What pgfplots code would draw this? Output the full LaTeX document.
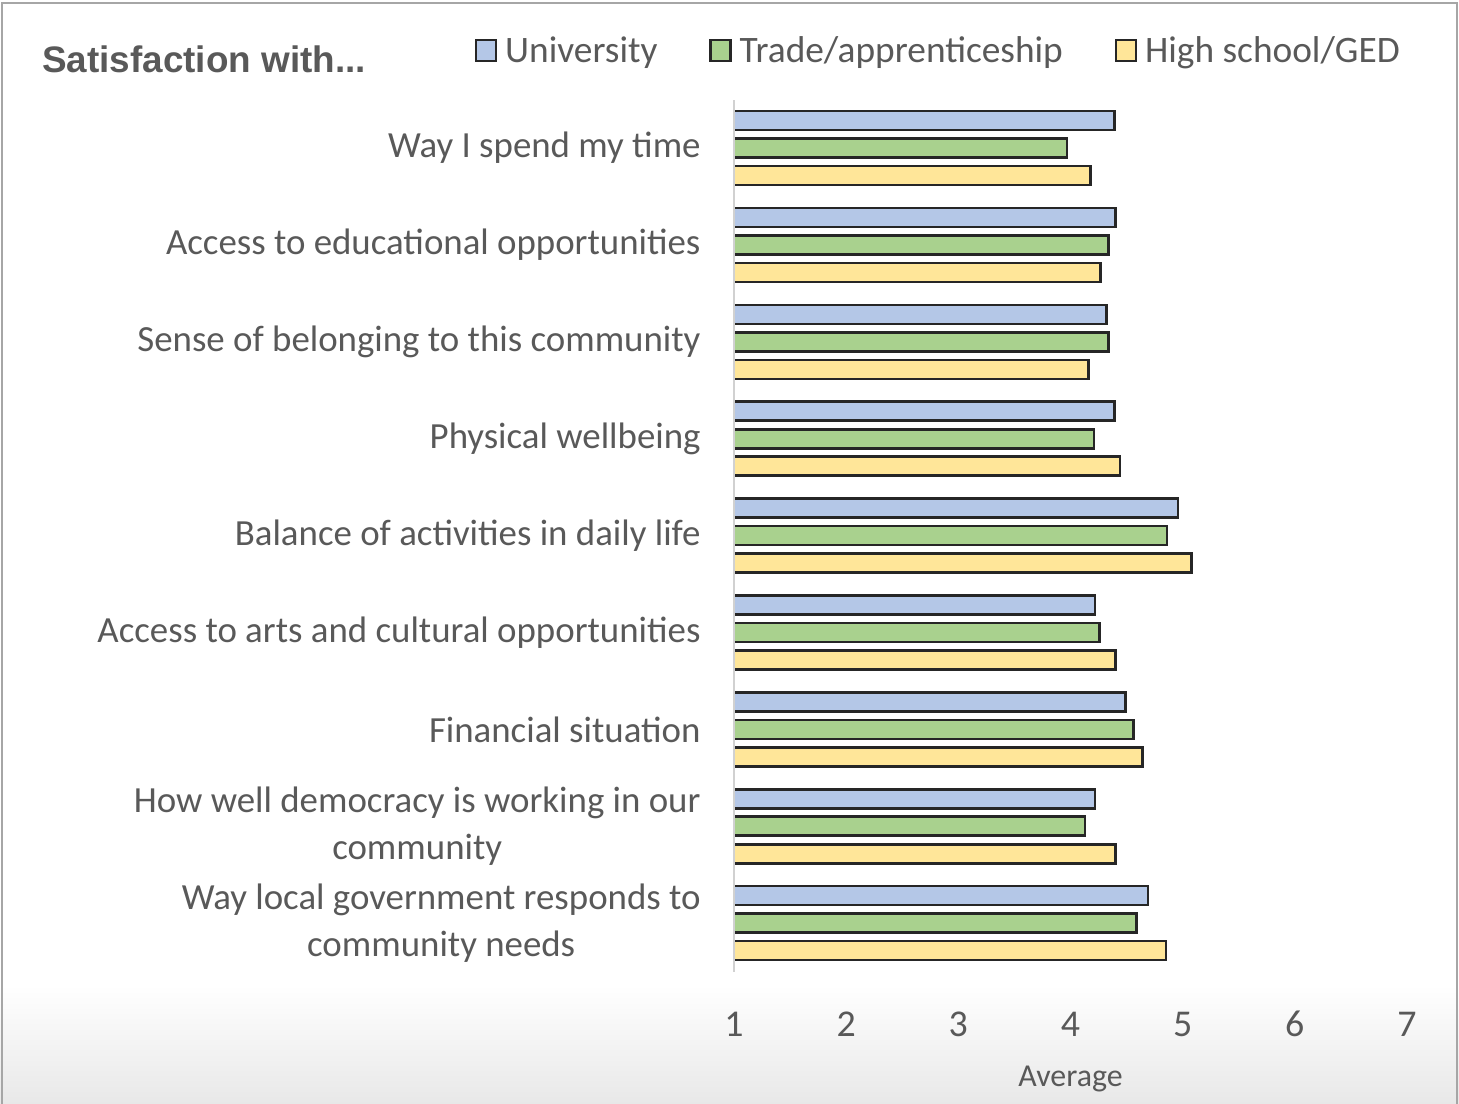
\documentclass[border=0pt]{standalone}
\usepackage{fontspec}
\setmainfont{Carlito}
\newfontfamily\arialfont{Liberation Sans}
\usepackage{pgfplots}
\pgfplotsset{compat=1.18}
\definecolor{uni}{HTML}{B4C7E7}
\definecolor{trade}{HTML}{A9D18E}
\definecolor{hs}{HTML}{FFE699}
\definecolor{txt}{HTML}{595959}
\begin{document}
\begin{tikzpicture}
\useasboundingbox (0,0) rectangle (1459bp,-1104bp);
\shade[top color=white, bottom color=black!9] (0,-985bp) rectangle (1459bp,-1104bp);
\draw[black!35, line width=2bp] (2bp,-1104bp) -- (2bp,-3bp) -- (1457bp,-3bp) -- (1457bp,-1104bp);
\node[anchor=base west, inner sep=0, font=\arialfont\bfseries\fontsize{37}{44}\selectfont, text=txt] at (42bp,-72bp) {Satisfaction with...};
\begin{axis}[
  at={(734bp,-99.6bp)}, anchor=north west,
  scale only axis, width=673bp, height=872bp,
  xmin=1, xmax=7, ymin=-0.5, ymax=8.5,
  xbar, bar width=19bp,
  axis on top,
  axis y line*=left, axis x line*=bottom,
  x axis line style={draw=none},
  y axis line style={draw=black!18, line width=2bp, -},
  xtick={1,2,3,4,5,6,7}, ytick={0,1,2,3,4,5,6,7,8},
  yticklabels={{Way local government responds to\\community needs},
    {How well democracy is working in our\\community},
    {Financial situation},
    {Access to arts and cultural opportunities},
    {Balance of activities in daily life},
    {Physical wellbeing},
    {Sense of belonging to this community},
    {Access to educational opportunities},
    {Way I spend my time}},
  tick style={draw=none},
  /pgf/number format/assume math mode=true,
  xticklabel style={anchor=base, yshift=-64.5bp, inner sep=0, font=\fontsize{38}{40}\selectfont, text=txt},
  yticklabel style={anchor=east, inner sep=0, xshift=-29bp, align=center, font=\fontsize{37}{47}\selectfont, text=txt},
  xlabel={Average},
  xlabel style={at={(axis description cs:0.5,0)}, anchor=base, yshift=-114.5bp, inner sep=0, font=\fontsize{32}{36}\selectfont, text=txt},
  legend image code/.code={\draw[#1, line width=2.2bp] (0bp,-8.25bp) rectangle (20bp,12.75bp);},
  legend style={draw=none, fill=none, legend columns=3, inner sep=0, outer sep=0,
    at={(axis description cs:-0.3848,1.05373)}, anchor=west,
    font=\fontsize{37.5}{40}\selectfont, text=txt,
    nodes={inner sep=0, text height=27.75bp, text depth=9.25bp},
    /tikz/every odd column/.append style={column sep=8bp},
    /tikz/every even column/.append style={column sep=52bp}},
  legend cell align=left,
]
\addplot[fill=uni, draw=black!85, line width=2.6bp, bar shift=27.5bp] coordinates {
(4.69,0) (4.22,1) (4.49,2) (4.22,3) (4.96,4) (4.39,5) (4.32,6) (4.40,7) (4.39,8)};
\addlegendentry{University}
\addplot[fill=trade, draw=black!85, line width=2.6bp, bar shift=0bp] coordinates {
(4.59,0) (4.13,1) (4.56,2) (4.26,3) (4.86,4) (4.21,5) (4.34,6) (4.34,7) (3.97,8)};
\addlegendentry{Trade/apprenticeship}
\addplot[fill=hs, draw=black!85, line width=2.6bp, bar shift=-27.5bp] coordinates {
(4.85,0) (4.40,1) (4.64,2) (4.40,3) (5.08,4) (4.44,5) (4.16,6) (4.27,7) (4.18,8)};
\addlegendentry{High school/GED}
\end{axis}
\end{tikzpicture}
\end{document}
